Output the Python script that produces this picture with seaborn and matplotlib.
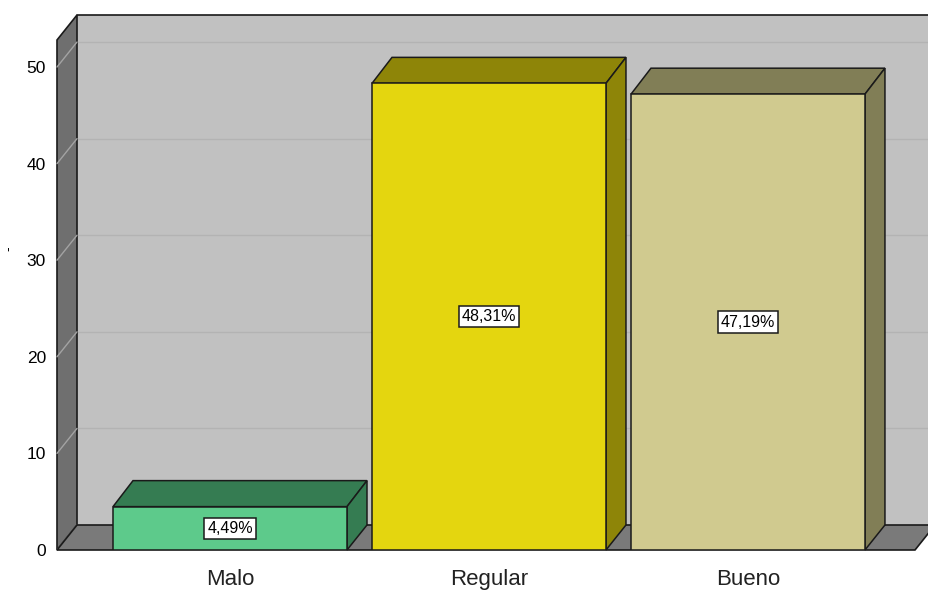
import matplotlib
matplotlib.use("Agg")
import matplotlib.pyplot as plt
import seaborn as sns
import pandas as pd
import numpy as np
from matplotlib.patches import Polygon

categories = ["Malo", "Regular", "Bueno"]
percentages = [4.49, 48.31, 47.19]
front_colors = ["#5dca8b", "#e4d60f", "#d0ca8f"]
dark_colors = ["#357c52", "#8e8508", "#817e56"]
yticks = [0, 10, 20, 30, 40, 50]

sns.set_theme(style="white")
plt.rcParams["font.family"] = ["Liberation Sans", "DejaVu Sans"]

fig = plt.figure(figsize=(9.29, 5.90), dpi=100)
ax = fig.add_axes([57 / 929, 40 / 590, (915 - 57) / 929, 510 / 590])
ax.set_facecolor("none")

df = pd.DataFrame({"cat": categories, "pct": percentages})
sns.barplot(data=df, x="cat", y="pct", hue="cat", palette=front_colors,
            saturation=1, width=0.9035, edgecolor="#1a1a1a", linewidth=1.1,
            ax=ax, legend=False, zorder=10)

XL = (-0.668, 2.645)
YL = (0, 52.8)
ax.set_xlim(*XL)
ax.set_ylim(*YL)
for s in ax.spines.values():
    s.set_visible(False)

DX, DY = 20, 25  # depth offset in pixels


def back(x, y, dx=DX, dy=DY):
    d = ax.transData.transform((x, y)) + np.array([dx, dy])
    return tuple(ax.transData.inverted().transform(d))


edge = "#1a1a1a"
# back wall
bw = [back(XL[0], 0), back(XL[1] + 0.2, 0), back(XL[1] + 0.2, YL[1]), back(XL[0], YL[1])]
ax.add_patch(Polygon(bw, closed=True, facecolor="#c1c1c1", edgecolor="none",
                     zorder=1, clip_on=False))
ax.plot([bw[3][0], bw[2][0]], [bw[3][1], bw[2][1]], color=edge, lw=1.2,
        zorder=2, clip_on=False)
for v in yticks[1:]:
    a = back(XL[0], v)
    b = back(XL[1] + 0.2, v)
    ax.plot([a[0], b[0]], [a[1], b[1]], color="#b3b3b3", lw=1.0, zorder=1.5,
            clip_on=False)

# left wall
lw_poly = [(XL[0], 0), (XL[0], YL[1]), back(XL[0], YL[1]), back(XL[0], 0)]
ax.add_patch(Polygon(lw_poly, closed=True, facecolor="#6f6f6f", edgecolor=edge,
                     lw=1.2, zorder=3, clip_on=False))
for v in yticks:
    a = back(XL[0], v)
    ax.plot([XL[0], a[0]], [v, a[1]], color="#a3a3a3", lw=1.0, zorder=3.5,
            clip_on=False)

# floor
fl = [(XL[0], 0), (XL[1], 0), back(XL[1], 0), back(XL[0], 0)]
ax.add_patch(Polygon(fl, closed=True, facecolor="#7a7a7a", edgecolor=edge,
                     lw=1.2, zorder=4, clip_on=False))

# 3D bar faces
bars = [p for p in ax.patches if p.get_zorder() == 10]
for p, dc, v in zip(bars, dark_colors, percentages):
    x0 = p.get_x()
    x1 = x0 + p.get_width()
    h = p.get_height()
    top = [(x0, h), (x1, h), back(x1, h, DX, DY + 1), back(x0, h, DX, DY + 1)]
    side = [(x1, 0), (x1, h), back(x1, h, DX, DY + 1), back(x1, 0, DX, DY)]
    ax.add_patch(Polygon(top, closed=True, facecolor=dc, edgecolor=edge,
                         lw=1.1, zorder=9, clip_on=False))
    ax.add_patch(Polygon(side, closed=True, facecolor=dc, edgecolor=edge,
                         lw=1.1, zorder=9, clip_on=False))
    lbl = f"{v:.2f}".replace(".", ",") + "%"
    ax.text(x0 + p.get_width() / 2, h / 2, lbl, ha="center", va="center",
            fontsize=11.5, color="black", zorder=20,
            bbox=dict(boxstyle="square,pad=0.2", facecolor="white",
                      edgecolor="#1a1a1a", linewidth=1.1))

ax.set_yticks(yticks)
ax.set_yticklabels([str(t) for t in yticks], fontsize=12.5, color="black")
ax.tick_params(axis="y", length=0, pad=8, labelcolor="black")
ax.tick_params(axis="x", length=0, pad=14, labelsize=16, labelcolor="#222222")
ax.set_xlabel("")
ax.set_ylabel("-", fontsize=10, rotation=90, color="black")
ax.yaxis.set_label_coords(-0.049, 0.59)

fig.savefig("out.png", dpi=100)
